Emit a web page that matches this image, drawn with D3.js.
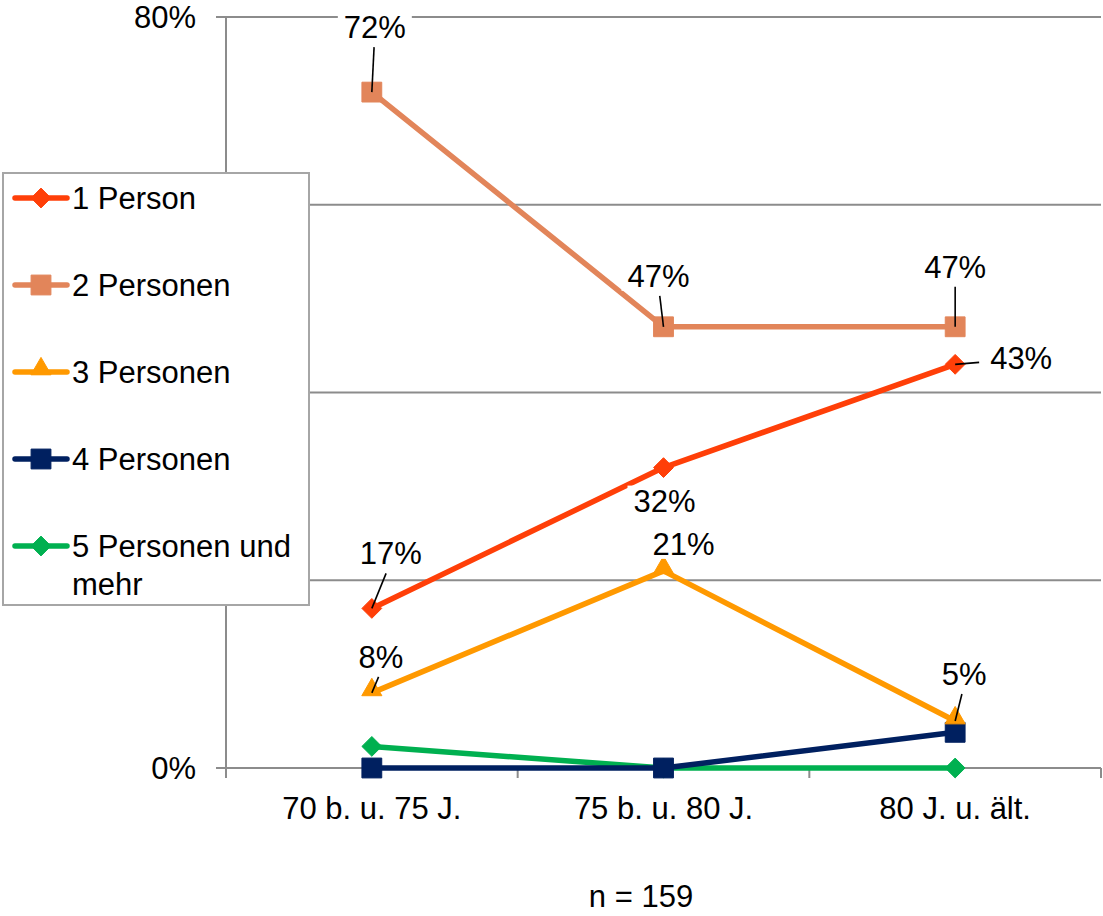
<!DOCTYPE html>
<html>
<head>
<meta charset="utf-8">
<script src="https://cdn.jsdelivr.net/npm/d3@7"></script>
<style>
  html, body { margin: 0; padding: 0; background: #fff; }
  svg { display: block; font-family: "Liberation Sans", Arial, sans-serif; }
</style>
</head>
<body>
<svg id="chart" width="1103" height="916"></svg>
<script>
// Haushaltsgröße nach Altersgruppe (Anteile in %)
const categories = ["70 b. u. 75 J.", "75 b. u. 80 J.", "80 J. u. ält."];
const seriesNames = ["1 Person", "2 Personen", "3 Personen", "4 Personen", "5 Personen und mehr"];
const onePerson    = [17, 32, 43];
const twoPersons   = [72, 47, 47];
const threePersons = [8, 21, 5];
const fourPersons  = [0, 0, 3.8];
const fivePlus     = [2.3, 0, 0];
const yTicks = [0, 20, 40, 60, 80];
const note = "n = 159";

const colors = ["#FF3F08", "#E2855A", "#FF9900", "#002060", "#00B050"];
const symbols = ["diamond", "square", "triangle", "square", "diamond"];
const values = [onePerson, twoPersons, threePersons, fourPersons, fivePlus];

// Value label placement relative to its point (dx, dy of the text centre),
// and whether a leader line connects label and point.
const labelSpec = [
  [ {dx: 19, dy: -55, leader: true}, {dx: 1, dy: 33, leader: false}, {dx: 66, dy: -6, leader: true} ],
  [ {dx: 3, dy: -65, leader: true}, {dx: -5, dy: -51, leader: true}, {dx: 0, dy: -60, leader: true} ],
  [ {dx: 9, dy: -36, leader: true}, {dx: 20, dy: -27, leader: false}, {dx: 9, dy: -47, leader: true} ],
  [ null, null, null ],
  [ null, null, null ]
];

const FONT = 31;
const svg = d3.select("#chart");
const margin = {left: 226, right: 1101, top: 17, bottom: 768};
const legendBox = {x: 3, y: 173, w: 306, h: 432};

const x = d3.scaleBand().domain(categories).range([margin.left, margin.right]);
const y = d3.scaleLinear().domain([0, 80]).range([margin.bottom, margin.top]);
const xc = c => x(c) + x.bandwidth() / 2;

const gridColor = "#8c8c8c";

// horizontal gridlines with short outward ticks
svg.append("g").selectAll("line").data(yTicks).join("line")
  .attr("x1", margin.left - 10).attr("x2", margin.right)
  .attr("y1", d => y(d)).attr("y2", d => y(d))
  .attr("stroke", gridColor).attr("stroke-width", 2);

// y axis line
svg.append("line")
  .attr("x1", margin.left).attr("x2", margin.left)
  .attr("y1", margin.top).attr("y2", margin.bottom)
  .attr("stroke", gridColor).attr("stroke-width", 2);

// x tick marks between categories
const xBounds = categories.map(c => x(c)).concat([margin.right]);
svg.append("g").selectAll("line").data(xBounds).join("line")
  .attr("x1", d => d).attr("x2", d => d)
  .attr("y1", margin.bottom).attr("y2", margin.bottom + 10)
  .attr("stroke", gridColor).attr("stroke-width", 2);

// y tick labels (the ones behind the legend box are hidden by it anyway)
const visibleTicks = yTicks.filter(d => y(d) < legendBox.y || y(d) > legendBox.y + legendBox.h);
svg.append("g").selectAll("text").data(visibleTicks).join("text")
  .attr("x", 196).attr("y", d => y(d) + 11)
  .attr("text-anchor", "end")
  .attr("font-size", FONT).attr("fill", "#000")
  .text(d => d + "%");

// x category labels
svg.append("g").selectAll("text").data(categories).join("text")
  .attr("x", d => xc(d)).attr("y", 819)
  .attr("text-anchor", "middle")
  .attr("font-size", FONT).attr("fill", "#000")
  .text(d => d);

// footnote
svg.append("text").attr("x", 641).attr("y", 907)
  .attr("text-anchor", "middle").attr("font-size", FONT).attr("fill", "#000")
  .text(note);

const line = d3.line().x((d, i) => xc(categories[i])).y(d => y(d));
const symbolType = {diamond: d3.symbolDiamond2, square: d3.symbolSquare2, triangle: d3.symbolTriangle2};
const symbolSize = {diamond: 250, square: 500, triangle: 290};

function marker(g, name, color) {
  return g.append("path")
    .attr("d", d3.symbol().type(symbolType[name]).size(symbolSize[name])())
    .attr("fill", color).attr("stroke", color).attr("stroke-width", 1);
}

// series lines and markers (later series underneath, first series on top)
[4, 3, 2, 1, 0].forEach(si => {
  const g = svg.append("g");
  g.append("path").datum(values[si])
    .attr("d", line).attr("fill", "none")
    .attr("stroke", colors[si]).attr("stroke-width", 5.5)
    .attr("stroke-linejoin", "round");
  values[si].forEach((v, i) => {
    const dyOff = symbols[si] === "triangle" ? -3 : 0;
    marker(g, symbols[si], colors[si])
      .attr("transform", `translate(${xc(categories[i])},${y(v) + dyOff})`);
  });
});

// value labels on white backgrounds, with leader lines
const labelLayer = svg.append("g");
values.forEach((vals, si) => {
  vals.forEach((v, i) => {
    const spec = labelSpec[si][i];
    if (!spec) return;
    const px = xc(categories[i]), py = y(v);
    const tx = px + spec.dx, ty = py + spec.dy;
    const txt = Math.round(v) + "%";
    const w = txt.length === 3 ? 68 : 51;
    labelLayer.append("rect")
      .attr("x", tx - w / 2 - 3).attr("y", ty - 15)
      .attr("width", w + 6).attr("height", 30)
      .attr("fill", "#fff");
    labelLayer.append("text")
      .attr("x", tx).attr("y", ty + 11)
      .attr("text-anchor", "middle").attr("font-size", FONT).attr("fill", "#000")
      .text(txt);
    if (spec.leader) {
      let ex, ey;
      if (Math.abs(spec.dx) > 40) { ex = tx - w / 2 - 8; ey = ty + 4; }
      else { ex = tx - spec.dx * 0.25; ey = ty + (spec.dy < 0 ? 20 : -20); }
      labelLayer.append("line")
        .attr("x1", px).attr("y1", py).attr("x2", ex).attr("y2", ey)
        .attr("stroke", "#000").attr("stroke-width", 1.6);
    }
  });
});

// legend
const lg = svg.append("g");
lg.append("rect").attr("x", legendBox.x).attr("y", legendBox.y)
  .attr("width", legendBox.w).attr("height", legendBox.h)
  .attr("fill", "#fff").attr("stroke", "#a6a6a6").attr("stroke-width", 2);
seriesNames.forEach((name, si) => {
  const cy = 198 + si * 87;
  lg.append("line").attr("x1", 15).attr("x2", 67).attr("y1", cy).attr("y2", cy)
    .attr("stroke", colors[si]).attr("stroke-width", 5.5).attr("stroke-linecap", "round");
  marker(lg, symbols[si], colors[si])
    .attr("transform", `translate(41,${cy + (symbols[si] === "triangle" ? -3 : 0)})`);
  const t = lg.append("text").attr("x", 72).attr("y", cy + 11)
    .attr("font-size", FONT).attr("fill", "#000");
  if (name === "5 Personen und mehr") {
    t.append("tspan").attr("x", 72).text("5 Personen und");
    t.append("tspan").attr("x", 72).attr("dy", 38).text("mehr");
  } else {
    t.text(name);
  }
});
</script>
</body>
</html>
